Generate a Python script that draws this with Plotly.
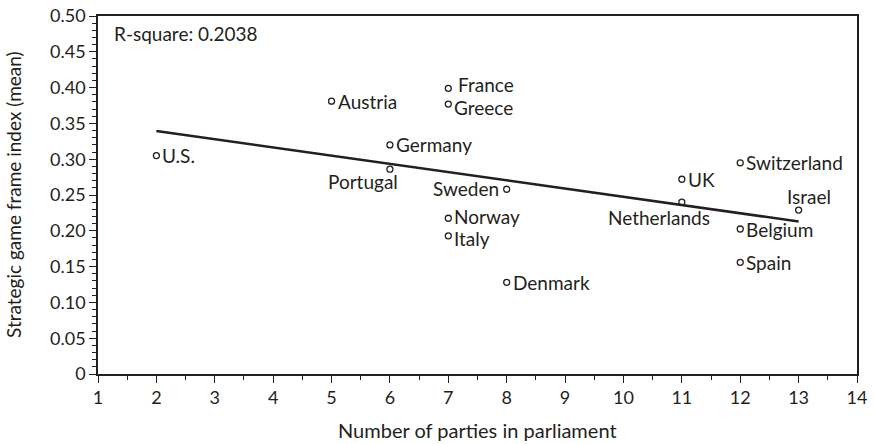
import numpy as np
import plotly.graph_objects as go

# Countries: number of parties in parliament vs. mean strategic game frame index
countries = ["U.S.", "Austria", "France", "Greece", "Germany", "Portugal", "Sweden",
             "Norway", "Italy", "Denmark", "UK", "Netherlands", "Switzerland",
             "Israel", "Belgium", "Spain"]
parties = [2, 5, 7, 7, 6, 6, 8, 7, 7, 8, 11, 11, 12, 13, 12, 12]
frame_index = [0.305, 0.381, 0.399, 0.377, 0.320, 0.286, 0.258, 0.2175, 0.193,
               0.128, 0.272, 0.240, 0.295, 0.229, 0.2025, 0.156]

x_ticks = list(range(1, 15))
y_ticks = [0, 0.05, 0.10, 0.15, 0.20, 0.25, 0.30, 0.35, 0.40, 0.45, 0.50]
y_ticktext = ["0", "0.05", "0.10", "0.15", "0.20", "0.25", "0.30", "0.35", "0.40", "0.45", "0.50"]
r_square_label = "R-square: 0.2038"
x_title = "Number of parties in parliament"
y_title = "Strategic game frame index (mean)"

# label placement per country: (xanchor, yanchor, xshift, yshift)
label_pos = {
    "France": ("left", "middle", 9, 4),
    "Greece": ("left", "middle", 5, -3),
    "Norway": ("left", "middle", 5, 2),
    "Italy": ("left", "middle", 5, -3),
    "Portugal": ("right", "middle", 9, -12),
    "Sweden": ("right", "middle", -7, 1),
    "Netherlands": ("center", "middle", -23, -15),
    "Israel": ("center", "middle", 10, 14),
}

FONT = "Lato, 'Open Sans', sans-serif"
INK = "#231f20"

# least-squares fit line across the observed range
slope, intercept = np.polyfit(parties, frame_index, 1)
fit_x = np.array([min(parties), max(parties)])
fit_y = intercept + slope * fit_x

fig = go.Figure()
fig.add_trace(go.Scatter(x=fit_x, y=fit_y, mode="lines",
                         line=dict(color=INK, width=2.6), hoverinfo="skip"))
fig.add_trace(go.Scatter(x=parties, y=frame_index, mode="markers", text=countries,
                         marker=dict(symbol="circle-open", size=6,
                                     line=dict(color=INK, width=1.3), color=INK)))

for name, px, py in zip(countries, parties, frame_index):
    xa, ya, xs, ys = label_pos.get(name, ("left", "middle", 5, 0))
    fig.add_annotation(x=px, y=py, text=name, showarrow=False,
                       xanchor=xa, yanchor=ya, xshift=xs, yshift=ys, borderpad=0,
                       font=dict(family=FONT, size=19, color=INK))

fig.add_annotation(xref="paper", yref="paper", x=0.018, y=0.95, text=r_square_label,
                   showarrow=False, xanchor="left", yanchor="middle",
                   font=dict(family=FONT, size=19, color=INK))

# axis titles placed in the margins
fig.add_annotation(xref="paper", yref="paper", x=0.5, y=0, yshift=-56,
                   text=x_title, showarrow=False, xanchor="center", yanchor="middle",
                   font=dict(family=FONT, size=20, color=INK))
fig.add_annotation(xref="paper", yref="paper", x=0, y=0.5, xshift=-85,
                   text=y_title, textangle=-90, showarrow=False,
                   xanchor="center", yanchor="middle",
                   font=dict(family=FONT, size=19, color=INK))

fig.update_xaxes(range=[1, 14], tickvals=x_ticks, ticks="outside", ticklen=7,
                 tickwidth=1.3, tickcolor=INK, showline=True, linecolor=INK,
                 linewidth=1.5, mirror=True, showgrid=False, zeroline=False,
                 automargin=False,
                 tickfont=dict(family=FONT, size=18, color=INK),
                 minor=dict(dtick=0.5, ticks="outside", ticklen=4, tickwidth=1.2,
                            tickcolor=INK, showgrid=False))
fig.update_yaxes(range=[0, 0.5], tickvals=y_ticks, ticktext=y_ticktext,
                 ticks="outside", ticklen=7, tickwidth=1.3, tickcolor=INK,
                 showline=True, linecolor=INK, linewidth=1.5, mirror=True,
                 showgrid=False, zeroline=False, automargin=False,
                 tickfont=dict(family=FONT, size=18, color=INK),
                 minor=dict(dtick=0.01, ticks="outside", ticklen=4, tickwidth=1.1,
                            tickcolor=INK, showgrid=False))

fig.update_layout(width=875, height=444, showlegend=False,
                  margin=dict(l=98, r=18, t=16, b=70),
                  plot_bgcolor="white", paper_bgcolor="white")

fig.write_html("out.html")
